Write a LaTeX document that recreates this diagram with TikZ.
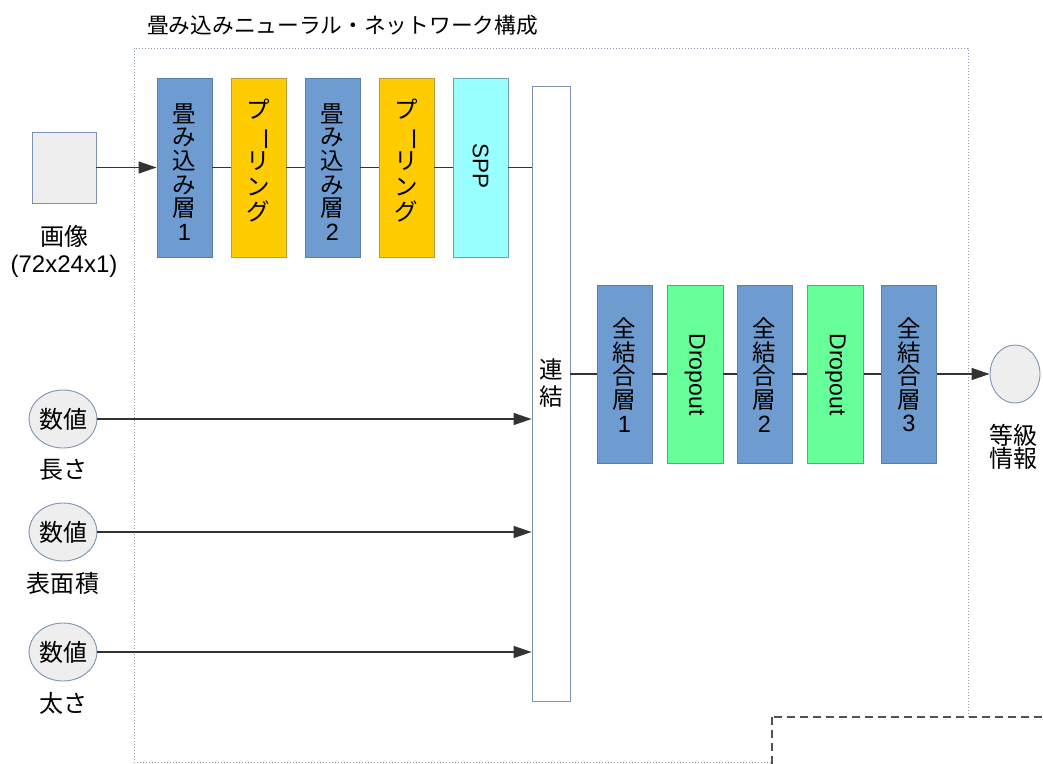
\documentclass[tikz,border=0pt]{standalone}
\usepackage{fontspec}
\setmainfont{Liberation Sans}
\newfontfamily\jp{Noto Sans CJK JP}
\usetikzlibrary{arrows.meta,shapes.geometric}
\definecolor{convblue}{HTML}{6E9BD0}
\definecolor{convedge}{HTML}{5A7FA6}
\definecolor{poolyel}{HTML}{FFCC00}
\definecolor{pooledge}{HTML}{B89A3A}
\definecolor{sppcyan}{HTML}{99FFFF}
\definecolor{sppedge}{HTML}{6AA8B0}
\definecolor{dropgreen}{HTML}{66FF99}
\definecolor{dropedge}{HTML}{55AA77}
\definecolor{lightfill}{HTML}{EEEEEE}
\definecolor{lightedge}{HTML}{7C93B4}
\definecolor{framecol}{HTML}{8A9BB0}
\definecolor{linecol}{HTML}{333333}
\newcommand{\vbar}{\hspace*{9pt}\rotatebox[origin=c]{-90}{ー}\hspace*{-9pt}}
\tikzset{
  layer/.style={draw, line width=0.9pt, minimum width=55pt, minimum height=179pt, inner sep=0pt},
  conv/.style={layer, fill=convblue, draw=convedge},
  pool/.style={layer, fill=poolyel, draw=pooledge},
  sppbox/.style={layer, fill=sppcyan, draw=sppedge},
  fcbox/.style={layer, fill=convblue, draw=convedge, minimum height=178pt},
  dropbox/.style={layer, fill=dropgreen, draw=dropedge, minimum height=178pt, minimum width=56pt},
  vtext/.style={align=center, inner sep=0pt, font=\jp\fontsize{23.5}{23.6}\selectfont},
  lbl/.style={align=center, inner sep=0pt, font=\jp\fontsize{24}{27}\selectfont},
  numnode/.style={ellipse, draw=lightedge, fill=lightfill, line width=0.9pt, minimum width=52pt, minimum height=58pt, inner sep=0pt, font=\jp\fontsize{24}{24}\selectfont},
  conn/.style={draw=linecol, line width=1.3pt},
  arr/.style={conn, -{Triangle[length=18pt,width=12pt]}},
  framebox/.style={draw=framecol, line width=1pt, dotted},
  dashbox/.style={draw=linecol!85, line width=1.6pt, dash pattern=on 8pt off 5pt, fill=white}
}
\begin{document}
\begin{tikzpicture}[x=1pt,y=-1pt]
\useasboundingbox (0,0) rectangle (1043,763);
\clip (0,0) rectangle (1043,763);
% frame and title
\draw[framebox] (134,48) rectangle (968,762);
\draw[dashbox] (772,717) rectangle (1090,820);
\node[anchor=west, inner sep=0pt, font=\jp\fontsize{21.7}{24}\selectfont] (title) at (147,25) {畳み込みニューラル・ネットワーク構成};
% input image
\node[draw=lightedge, fill=lightfill, line width=0.9pt, minimum width=64pt, minimum height=71pt, inner sep=0pt] (img) at (64,167.5) {};
\node[lbl] (imglbl) at (64,251.5) {画像\\{\rmfamily (72x24x1)}};
% conv stack
\node[conv] (conv1) at (184.5,167.5) {};
\node[pool] (pool1) at (258.5,167.5) {};
\node[conv] (conv2) at (332.5,167.5) {};
\node[pool] (pool2) at (406.5,167.5) {};
\node[sppbox] (spp) at (480.5,167.5) {};
\node[vtext] (conv1t) at (184.5,172) {畳\\み\\込\\み\\層\\{\rmfamily 1}};
\node[vtext, font=\jp\fontsize{23.5}{25.5}\selectfont] (pool1t) at (258.5,161) {プ\\\vbar\\リ\\ン\\グ};
\node[vtext] (conv2t) at (332.5,172) {畳\\み\\込\\み\\層\\{\rmfamily 2}};
\node[vtext, font=\jp\fontsize{23.5}{25.5}\selectfont] (pool2t) at (406.5,161) {プ\\\vbar\\リ\\ン\\グ};
\node[rotate=-90, inner sep=0pt, font=\rmfamily\fontsize{22.5}{24}\selectfont] (sppt) at (480.5,166) {SPP};
% concat
\node[draw=lightedge, fill=white, line width=0.9pt, minimum width=38pt, minimum height=615pt, inner sep=0pt] (concat) at (551,393.5) {};
\node[lbl, font=\jp\fontsize{23.5}{27}\selectfont] (concatt) at (551,383) {連\\結};
% fc stack
\node[fcbox] (fc1) at (624.5,374) {};
\node[dropbox] (drop1) at (695,374) {};
\node[fcbox] (fc2) at (764.5,374) {};
\node[dropbox] (drop2) at (835.5,374) {};
\node[fcbox] (fc3) at (909,374) {};
\node[vtext] (fc1t) at (624.5,375) {全\\結\\合\\層\\{\rmfamily 1}};
\node[rotate=-90, inner sep=0pt, font=\rmfamily\fontsize{23}{24}\selectfont] (drop1t) at (695,374.5) {Dropout};
\node[vtext] (fc2t) at (764.5,375) {全\\結\\合\\層\\{\rmfamily 2}};
\node[rotate=-90, inner sep=0pt, font=\rmfamily\fontsize{23}{24}\selectfont] (drop2t) at (835.5,374.5) {Dropout};
\node[vtext] (fc3t) at (909,375) {全\\結\\合\\層\\{\rmfamily 3}};
% output
\node[numnode, minimum width=50pt] (out) at (1015,374) {};
\node[lbl, font=\jp\fontsize{24}{23}\selectfont] (outlbl) at (1013,446.5) {等級\\情報};
% numeric inputs
\node[numnode] (num1) at (63,419) {数値};
\node[numnode] (num2) at (63,532) {数値};
\node[numnode] (num3) at (63,652) {数値};
\node[lbl] (num1l) at (63,470) {長さ};
\node[lbl] (num2l) at (63,583) {表面積};
\node[lbl] (num3l) at (63,703) {太さ};
% connectors
\draw[arr] (img) -- (conv1);
\draw[conn] (conv1) -- (pool1);
\draw[conn] (pool1) -- (conv2);
\draw[conn] (conv2) -- (pool2);
\draw[conn] (pool2) -- (spp);
\draw[conn] (spp.east) -- (spp.east -| concat.west);
\draw[conn] (fc1.west -| concat.east) -- (fc1.west);
\draw[conn] (fc1) -- (drop1);
\draw[conn] (drop1) -- (fc2);
\draw[conn] (fc2) -- (drop2);
\draw[conn] (drop2) -- (fc3);
\draw[arr] (fc3) -- (out);
\draw[arr] (num1) -- (num1 -| concat.west);
\draw[arr] (num2) -- (num2 -| concat.west);
\draw[arr] (num3) -- (num3 -| concat.west);
\end{tikzpicture}
\end{document}
